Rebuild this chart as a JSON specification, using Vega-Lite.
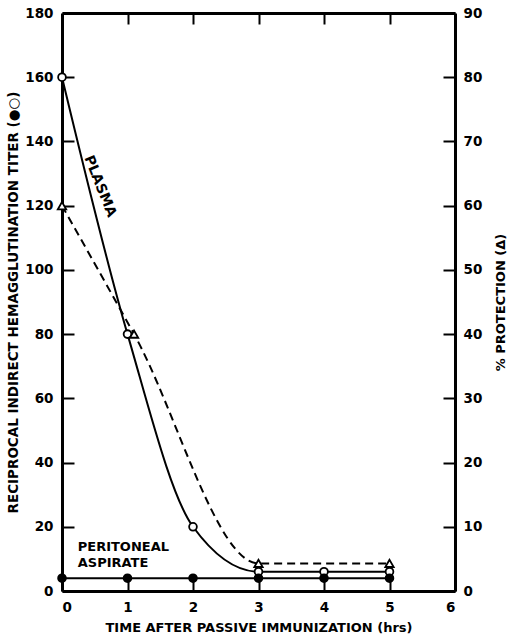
{
  "$schema": "https://vega.github.io/schema/vega-lite/v6.json",
  "width": 393,
  "height": 578,
  "autosize": {"type": "none"},
  "padding": {"left": 62, "top": 13, "right": 55, "bottom": 47},
  "background": "white",
  "config": {
    "view": {"stroke": null},
    "font": "DejaVu Sans",
    "axis": {
      "grid": false,
      "domainColor": "black",
      "domainWidth": 3,
      "tickColor": "black",
      "tickWidth": 2,
      "labelColor": "black",
      "labelFont": "DejaVu Sans",
      "labelFontWeight": "bold",
      "labelFontSize": 13.5,
      "titleColor": "black",
      "titleFont": "DejaVu Sans",
      "titleFontWeight": "bold",
      "titleFontSize": 13
    }
  },
  "datasets": {
    "titer": [
      {"time": 0, "value": 160, "series": "plasma"},
      {"time": 1, "value": 80, "series": "plasma"},
      {"time": 2, "value": 20, "series": "plasma"},
      {"time": 3, "value": 6, "series": "plasma"},
      {"time": 4, "value": 6, "series": "plasma"},
      {"time": 5, "value": 6, "series": "plasma"},
      {"time": 0, "value": 4, "series": "peritoneal"},
      {"time": 1, "value": 4, "series": "peritoneal"},
      {"time": 2, "value": 4, "series": "peritoneal"},
      {"time": 3, "value": 4, "series": "peritoneal"},
      {"time": 4, "value": 4, "series": "peritoneal"},
      {"time": 5, "value": 4, "series": "peritoneal"}
    ],
    "protection": [
      {"time": 0, "pct": 60},
      {"time": 1.1, "pct": 40},
      {"time": 3, "pct": 4.3},
      {"time": 5, "pct": 4.3}
    ],
    "labels": [
      {"time": 0.58, "value": 126, "text": "PLASMA", "kind": "plasma"},
      {"time": 0.24, "value": 13.7, "text": "PERITONEAL", "kind": "perit"},
      {"time": 0.24, "value": 8.7, "text": "ASPIRATE", "kind": "perit"}
    ]
  },
  "layer": [
    {
      "encoding": {
        "x": {
          "field": "time", "type": "quantitative",
          "scale": {"domain": [0, 6], "nice": false, "zero": false},
          "axis": {"orient": "bottom", "values": [0, 1, 2, 3, 4, 5, 6], "tickSize": -12, "labelPadding": 21, "title": "TIME AFTER PASSIVE IMMUNIZATION (hrs)", "titlePadding": 8}
        },
        "y": {
          "field": "value", "type": "quantitative",
          "scale": {"domain": [0, 180], "nice": false},
          "axis": {"orient": "left", "values": [0, 20, 40, 60, 80, 100, 120, 140, 160, 180], "tickSize": -12, "labelPadding": 21, "title": "RECIPROCAL INDIRECT HEMAGGLUTINATION TITER (●○)", "titleFontSize": 13.5, "titlePadding": 4}
        }
      },
      "layer": [
        {
          "data": {"name": "titer"},
          "mark": {"type": "line", "color": "black", "strokeWidth": 2, "interpolate": "monotone", "clip": false},
          "encoding": {"detail": {"field": "series"}}
        },
        {
          "data": {"name": "titer"},
          "mark": {"type": "point", "shape": "circle", "stroke": "black", "strokeWidth": 1.8, "opacity": 1, "size": 60, "clip": false},
          "encoding": {
            "fill": {"field": "series", "type": "nominal", "scale": {"domain": ["plasma", "peritoneal"], "range": ["white", "black"]}, "legend": null}
          }
        },
        {
          "data": {"name": "labels"},
          "transform": [{"filter": "datum.kind == 'plasma'"}],
          "mark": {"type": "text", "angle": 68, "fontWeight": "bold", "fontSize": 14, "color": "black", "align": "center", "baseline": "middle"},
          "encoding": {"text": {"field": "text"}}
        },
        {
          "data": {"name": "labels"},
          "transform": [{"filter": "datum.kind == 'perit'"}],
          "mark": {"type": "text", "fontWeight": "bold", "fontSize": 13, "color": "black", "align": "left", "baseline": "middle"},
          "encoding": {"text": {"field": "text"}}
        }
      ]
    },
    {
      "data": {"name": "protection"},
      "layer": [
        {
          "mark": {"type": "line", "color": "black", "strokeWidth": 2, "strokeDash": [8, 5], "interpolate": "monotone", "clip": false}
        },
        {
          "mark": {"type": "point", "shape": "triangle-up", "fill": "white", "stroke": "black", "strokeWidth": 1.8, "opacity": 1, "size": 70, "clip": false}
        }
      ],
      "encoding": {
        "x": {
          "field": "time", "type": "quantitative",
          "scale": {"domain": [0, 6], "nice": false, "zero": false},
          "axis": {"orient": "top", "values": [1, 2, 3, 4, 5], "tickSize": -11, "labels": false, "title": null}
        },
        "y": {
          "field": "pct", "type": "quantitative",
          "scale": {"domain": [0, 90], "nice": false},
          "axis": {"orient": "right", "values": [0, 10, 20, 30, 40, 50, 60, 70, 80, 90], "tickSize": -12, "labelPadding": 20, "title": "% PROTECTION (Δ)", "titleAngle": 270, "titlePadding": 26}
        }
      }
    }
  ],
  "resolve": {"scale": {"x": "independent", "y": "independent"}}
}
